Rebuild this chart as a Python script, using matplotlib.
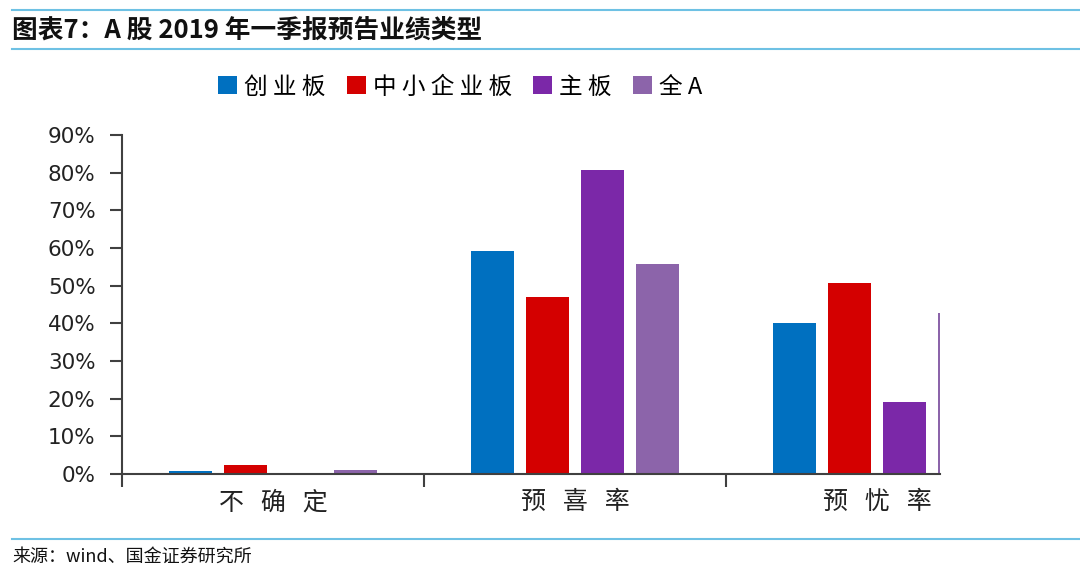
import matplotlib
matplotlib.use("Agg")
import matplotlib.pyplot as plt
import numpy as np
from matplotlib.lines import Line2D
from matplotlib.patches import Patch

plt.rcParams['font.family'] = ['Noto Sans CJK SC', 'DejaVu Sans']

categories = ['不   确   定', '预   喜   率', '预   忧   率']
series_names = ['创 业 板', '中 小 企 业 板', '主 板', '全 A']
chuangye = [0.009, 0.592, 0.400]
zhongxiao = [0.025, 0.470, 0.506]
zhuban = [0.0, 0.807, 0.192]
quanA = [0.011, 0.557, 0.427]
yticks = [0, 0.1, 0.2, 0.3, 0.4, 0.5, 0.6, 0.7, 0.8, 0.9]
ytick_labels = ['0%', '10%', '20%', '30%', '40%', '50%', '60%', '70%', '80%', '90%']

colors = ['#0070C0', '#D40000', '#7B28A8', '#8C64AA']
series = [chuangye, zhongxiao, zhuban, quanA]

fig = plt.figure(figsize=(10.8, 5.77), dpi=100)
W, H = 1080, 577
ax = fig.add_axes([122 / W, 1 - 474 / H, (940 - 122) / W, (474 - 135) / H])

x = np.arange(len(categories))
step = 0.182
width = 0.142
for i, (vals, c) in enumerate(zip(series, colors)):
    ax.bar(x + (i - 1.5) * step, vals, width=width, color=c, label=series_names[i], zorder=2)

ax.set_xlim(-0.5, 2.209)
ax.set_ylim(0, 0.9)
ax.set_yticks(yticks)
ax.set_yticklabels(ytick_labels, fontsize=15.5, color='#222222', family='DejaVu Sans')
ax.set_xticks(x)
ax.set_xticklabels(categories, fontsize=18, color='#222222')
ax.set_xticks([-0.5, 0.5, 1.5], minor=True)
ax.tick_params(axis='x', which='major', length=0, pad=11)
ax.tick_params(axis='x', which='minor', length=9, width=1.5, color='#404040', direction='out')
ax.tick_params(axis='y', length=9, width=1.5, color='#404040', direction='out', pad=10)
for s in ['top', 'right']:
    ax.spines[s].set_visible(False)
for s in ['left', 'bottom']:
    ax.spines[s].set_color('#404040')
    ax.spines[s].set_linewidth(1.5)

handles = [Patch(facecolor=c, edgecolor='none') for c in colors]
fig.legend(handles, series_names, loc='center',
           bbox_to_anchor=(460 / W, 1 - 87 / H), ncol=4, frameon=False,
           fontsize=17, handlelength=0.8, handleheight=0.8, handletextpad=0.3,
           columnspacing=0.9)

# header / footer rules
line_color = '#6EC1E4'
for yy in [10, 49, 539]:
    fig.add_artist(Line2D([12 / W, 1.0], [1 - yy / H, 1 - yy / H], color=line_color, lw=1.5,
                          transform=fig.transFigure))

fig.text(12 / W, 1 - 30 / H, '图表7：A 股 2019 年一季报预告业绩类型', fontsize=18.5,
         fontweight='bold', style='italic', va='center', ha='left', color='#111111')
fig.text(12 / W, 1 - 557 / H, '来源：wind、国金证券研究所', fontsize=13,
         va='center', ha='left', color='#111111')

fig.savefig('out.png', dpi=100)
